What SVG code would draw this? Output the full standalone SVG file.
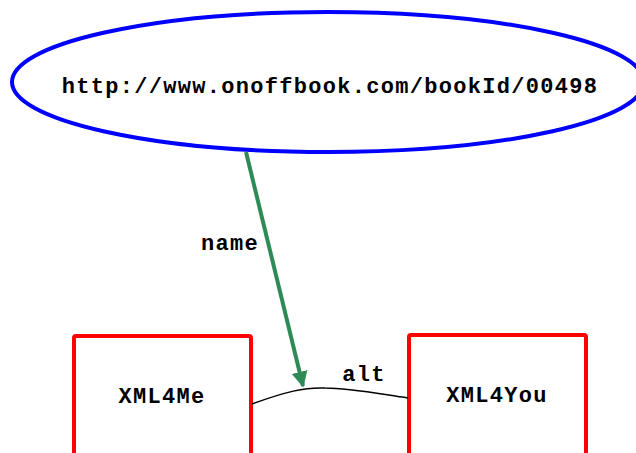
<svg xmlns="http://www.w3.org/2000/svg" width="636" height="453" viewBox="0 0 636 453">
  <style>
    .lbl { font-family: "Liberation Mono", "Courier New", monospace; font-weight: bold; font-size: 22px; letter-spacing: 1.3px; fill: #000; text-anchor: middle; }
    .box { fill: #fff; stroke: #ff0000; stroke-width: 4; }
  </style>
  <defs>
    <marker id="arrowGreen" viewBox="0 0 10 10" refX="9" refY="5" markerWidth="4" markerHeight="4.5" orient="auto" markerUnits="strokeWidth">
      <path d="M0,0 L10,5 L0,10 Z" fill="#2e8b57"/>
    </marker>
  </defs>
  <rect width="636" height="453" fill="#fff"/>

  <g id="node-book">
    <ellipse cx="328" cy="82" rx="316" ry="70" fill="#fff" stroke="#0000ff" stroke-width="4"/>
    <text class="lbl" x="330" y="93">http://www.onoffbook.com/bookId/00498</text>
  </g>

  <g id="node-xml4me">
    <rect class="box" x="74" y="336" width="177" height="140" rx="2"/>
    <text class="lbl" x="162" y="403">XML4Me</text>
  </g>

  <g id="node-xml4you">
    <rect class="box" x="409" y="335" width="177" height="140" rx="2"/>
    <text class="lbl" x="497" y="402">XML4You</text>
  </g>

  <g id="connectors">
    <path d="M252,404 C285,392 305,387 325,388 C350,388 380,394 408,398" fill="none" stroke="#000" stroke-width="1.5"/>
    <text class="lbl" x="364" y="381">alt</text>
    <line x1="246" y1="152" x2="303" y2="386" stroke="#2e8b57" stroke-width="4" marker-end="url(#arrowGreen)"/>
    <text class="lbl" x="230" y="250">name</text>
  </g>
</svg>
